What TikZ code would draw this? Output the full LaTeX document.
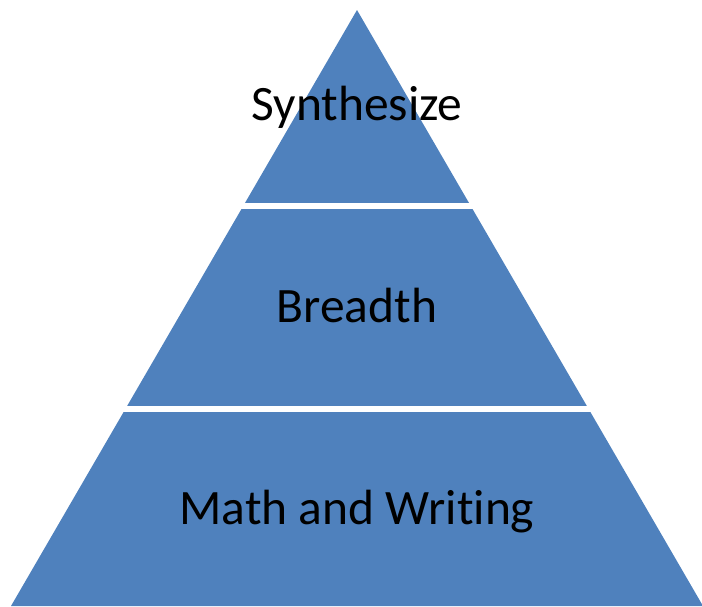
\documentclass[tikz,border=0pt]{standalone}
\usepackage{fontspec}
\setmainfont[Ligatures=NoCommon]{Carlito}
\definecolor{layerblue}{HTML}{4F81BD}
\begin{document}
\begin{tikzpicture}[x=1pt,y=-1pt,
  label/.style={anchor=base,font=\fontsize{49.5}{55}\selectfont,text=black}]
			\useasboundingbox (0,0) rectangle (702,606);
			\coordinate (apex) at (357,10);
			\coordinate (bl) at (11,606);
			\coordinate (br) at (703,606);
			\fill[layerblue] (apex)--(bl)--(br)--cycle;
			\draw[white, line width=6pt] (0,206)--(702,206);
			\draw[white, line width=6pt] (0,409)--(702,409);
			\node[label] (top) at (357,120) {Synthesize};
			\node[label] (mid) at (357,322) {Breadth};
			\node[label] (base) at (357,524) {Math and Writing};
		\end{tikzpicture}
\end{document}
